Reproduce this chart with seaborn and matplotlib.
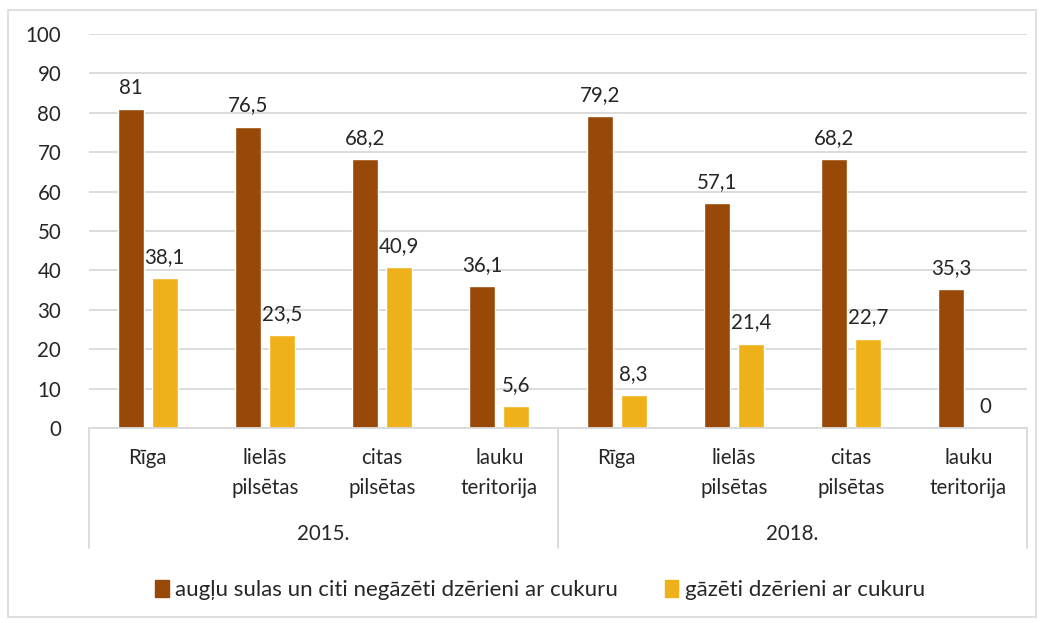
import matplotlib
matplotlib.use("Agg")
import matplotlib.pyplot as plt
import matplotlib.patches as mpatches
import matplotlib.transforms as mtrans
import seaborn as sns
import pandas as pd

years = ["2015.", "2018."]
places = ["Rīga", "lielās\npilsētas", "citas\npilsētas", "lauku\nteritorija"]
series_names = ["augļu sulas un citi negāzēti dzērieni ar cukuru", "gāzēti dzērieni ar cukuru"]
juice_vals = [81, 76.5, 68.2, 36.1, 79.2, 57.1, 68.2, 35.3]
soda_vals = [38.1, 23.5, 40.9, 5.6, 8.3, 21.4, 22.7, 0]
colors = ["#984807", "#EFB11A"]

sns.set_theme(style="white")
plt.rcParams["font.family"] = ["Lato", "DejaVu Sans"]

FS = 14.8
cats = [f"{y}|{p}" for y in years for p in places]
rows = []
for i, c in enumerate(cats):
    rows.append({"cat": c, "series": series_names[0], "val": juice_vals[i]})
    rows.append({"cat": c, "series": series_names[1], "val": soda_vals[i]})
df = pd.DataFrame(rows)

fig = plt.figure(figsize=(10.41, 6.23), dpi=100)
ax = fig.add_axes([89/1041, 1-428/623, (1027-89)/1041, (428-34)/623])

sns.barplot(data=df, x="cat", y="val", hue="series", order=cats, hue_order=series_names,
            palette=colors, width=0.58, gap=0.24, ax=ax, legend=False, saturation=1)

ax.set_ylim(0, 100)
ax.set_xlim(-0.5, len(cats) - 0.5)
ax.set_yticks(range(0, 101, 10))
ax.set_yticklabels([str(v) for v in range(0, 101, 10)], fontsize=FS, color="#262626")
ax.tick_params(axis="y", length=0, pad=20)
ax.set_xticks([])
ax.set_xlabel("")
ax.set_ylabel("")
ax.grid(axis="y", color="#D9D9D9", linewidth=1.3)
ax.set_axisbelow(True)
for s in ["top", "right", "left"]:
    ax.spines[s].set_visible(False)
ax.spines["bottom"].set_color("#D9D9D9")
ax.spines["bottom"].set_linewidth(1.3)

def fmt(v):
    return (f"{v:g}").replace(".", ",")

for cont, vals in zip(ax.containers, [juice_vals, soda_vals]):
    ax.bar_label(cont, labels=[fmt(v) for v in vals], padding=8, fontsize=FS, color="#262626")

trans = mtrans.blended_transform_factory(ax.transData, ax.transAxes)
for i, c in enumerate(cats):
    ax.text(i, -0.05, places[i % 4], transform=trans, ha="center", va="top",
            fontsize=FS, color="#262626", linespacing=1.62)
for j, y in enumerate(years):
    ax.text(j * 4 + 1.5, -0.268, y, transform=trans, ha="center", va="center",
            fontsize=FS, color="#262626")
for xv in [-0.5, 3.5, 7.5]:
    ax.plot([xv, xv], [0, -0.305], transform=trans, color="#D9D9D9", linewidth=1.3, clip_on=False)

handles = [mpatches.Patch(color=colors[0], label=series_names[0]),
           mpatches.Patch(color=colors[1], label=series_names[1])]
fig.legend(handles=handles, loc="center", bbox_to_anchor=(540/1041, 1-590/623), ncol=2,
           frameon=False, fontsize=16, handlelength=0.6, handleheight=0.8,
           handletextpad=0.3, columnspacing=2.1, labelcolor="#262626")

fig.patches.append(mpatches.Rectangle((8/1041, 6/623), 1028/1041, 607/623, transform=fig.transFigure,
                                      fill=False, edgecolor="#D9D9D9", linewidth=1.2))

fig.savefig("out.png", dpi=100)
